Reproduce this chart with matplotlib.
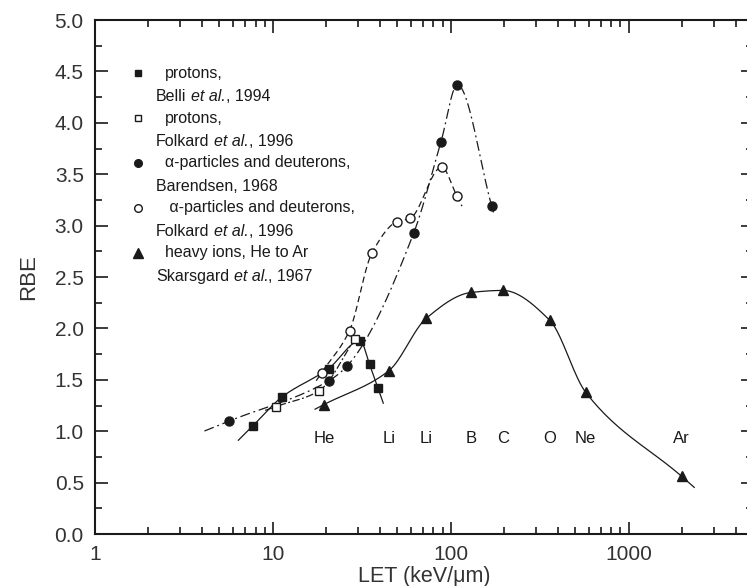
import numpy as np
import matplotlib
matplotlib.use("Agg")
import matplotlib.pyplot as plt
from matplotlib.ticker import FixedLocator, FixedFormatter, LogLocator, NullFormatter, MultipleLocator, FormatStrFormatter

plt.rcParams["font.family"] = ["Liberation Sans", "DejaVu Sans"]

# ---- data: LET (keV/um) and RBE ----
belli_let = [7.7, 11.2, 20.6, 31.0, 35.0, 39.0]
belli_rbe = [1.05, 1.33, 1.61, 1.88, 1.65, 1.42]

folk_p_let = [10.4, 18.1, 29.0]
folk_p_rbe = [1.24, 1.39, 1.90]

baren_let = [5.7, 20.6, 26.0, 62.0, 88.0, 109.0, 170.0]
baren_rbe = [1.10, 1.49, 1.63, 2.93, 3.81, 4.37, 3.19]

folk_a_let = [18.8, 27.0, 36.0, 50.0, 59.0, 89.0, 108.0]
folk_a_rbe = [1.57, 1.98, 2.73, 3.04, 3.07, 3.57, 3.29]

ions_let = [19.4, 45.0, 73.0, 130.0, 196.0, 360.0, 573.0, 1990.0]
ions_rbe = [1.26, 1.59, 2.10, 2.35, 2.37, 2.08, 1.38, 0.56]
ions_names = ["He", "Li", "Li", "B", "C", "O", "Ne", "Ar"]


def pchip(x, y, xq):
    """Monotone cubic (Fritsch-Carlson) interpolation."""
    x = np.asarray(x, float); y = np.asarray(y, float)
    h = np.diff(x); d = np.diff(y) / h
    n = len(x)
    m = np.zeros(n)
    for k in range(1, n - 1):
        if d[k - 1] * d[k] > 0:
            w1 = 2 * h[k] + h[k - 1]; w2 = h[k] + 2 * h[k - 1]
            m[k] = (w1 + w2) / (w1 / d[k - 1] + w2 / d[k])
    m[0] = d[0]; m[-1] = d[-1]
    out = np.empty_like(xq)
    for i, xv in enumerate(xq):
        k = np.clip(np.searchsorted(x, xv) - 1, 0, n - 2)
        t = (xv - x[k]) / h[k]
        h00 = 2 * t**3 - 3 * t**2 + 1; h10 = t**3 - 2 * t**2 + t
        h01 = -2 * t**3 + 3 * t**2; h11 = t**3 - t**2
        out[i] = h00 * y[k] + h10 * h[k] * m[k] + h01 * y[k + 1] + h11 * h[k] * m[k + 1]
    return out


def fit_curve(lets, rbes, ext_left, ext_right):
    """Smooth curve through the points in log-LET space, extended along end slopes."""
    lx = np.log10(lets); y = np.asarray(rbes, float)
    xq = np.linspace(lx[0], lx[-1], 300)
    yq = pchip(lx, y, xq)
    sl = (y[1] - y[0]) / (lx[1] - lx[0])
    sr = (y[-1] - y[-2]) / (lx[-1] - lx[-2])
    xl = np.array([lx[0] - ext_left]); yl = y[0] - sl * ext_left
    xr = np.array([lx[-1] + ext_right]); yr = y[-1] + sr * ext_right
    xs = np.concatenate([xl, xq, xr]); ys = np.concatenate([[yl], yq, [yr]])
    return 10 ** xs, ys


fig = plt.figure(figsize=(7.47, 5.86), dpi=100)
ax = fig.add_axes([0.127, 0.0887, 0.881, 0.877])

ink = "#1a1a1a"
lw = 0.9

# curves
cx, cy = fit_curve(belli_let, belli_rbe, 0.08, 0.03)
ax.plot(cx, cy, color=ink, lw=lw, ls="-")
cx, cy = fit_curve(folk_p_let, folk_p_rbe, 0.06, 0.0)
ax.plot(cx, cy, color=ink, lw=lw, ls=(0, (6, 2, 1.5, 2)))
cx, cy = fit_curve(baren_let, baren_rbe, 0.14, 0.01)
ax.plot(cx, cy, color=ink, lw=lw, ls=(0, (8, 3, 1.5, 3)))
cx, cy = fit_curve(folk_a_let, folk_a_rbe, 0.03, 0.03)
ax.plot(cx, cy, color=ink, lw=lw, ls=(0, (5, 3)))
cx, cy = fit_curve(ions_let, ions_rbe, 0.05, 0.07)
ax.plot(cx, cy, color=ink, lw=lw, ls="-")

# markers
ax.plot(belli_let, belli_rbe, ls="none", marker="s", ms=6, color=ink)
ax.plot(folk_p_let, folk_p_rbe, ls="none", marker="s", ms=6, mfc="white", mec=ink, mew=1.0)
ax.plot(baren_let, baren_rbe, ls="none", marker="o", ms=6.5, color=ink)
ax.plot(folk_a_let, folk_a_rbe, ls="none", marker="o", ms=6.5, mfc="white", mec=ink, mew=1.0)
ax.plot(ions_let, ions_rbe, ls="none", marker="^", ms=7.5, color=ink)

# ion labels under the heavy-ion points
for xv, name in zip(ions_let, ions_names):
    ax.text(xv, 0.93, name, ha="center", va="center", fontsize=12, color=ink)

# axes
ax.set_xscale("log")
ax.set_xlim(1, 5000)
ax.set_ylim(0, 5.0)
ax.xaxis.set_major_locator(FixedLocator([1, 10, 100, 1000]))
ax.xaxis.set_major_formatter(FixedFormatter(["1", "10", "100", "1000"]))
ax.xaxis.set_minor_locator(LogLocator(base=10, subs=np.arange(2, 10), numticks=20))
ax.xaxis.set_minor_formatter(NullFormatter())
ax.yaxis.set_major_locator(MultipleLocator(0.5))
ax.yaxis.set_minor_locator(MultipleLocator(0.25))
ax.yaxis.set_major_formatter(FormatStrFormatter("%.1f"))

for s in ax.spines.values():
    s.set_linewidth(1.5)
    s.set_color(ink)
ax.tick_params(which="both", direction="in", top=True, right=True, color=ink, width=1.2)
ax.tick_params(which="major", length=9, labelsize=15, pad=8, labelcolor="#333333")
ax.tick_params(which="minor", length=5)

ax.set_ylabel("RBE", fontsize=16, color="#333333", labelpad=11)
ax.set_xlabel("LET (keV/μm)", fontsize=15.5, color="#333333", labelpad=1)

# legend drawn by hand: marker, first line, then a second line with italic "et al."
renderer = fig.canvas.get_renderer()
legend_fs = 11.5


def text_run(x_ax, y_ax, pieces):
    """Write consecutive pieces (text, italic?) on one baseline, starting at axes coords."""
    x0, y0 = ax.transAxes.transform((x_ax, y_ax))
    probe = fig.text(0, 0, "a a", fontsize=legend_fs)
    probe2 = fig.text(0, 0, "aa", fontsize=legend_fs)
    space = probe.get_window_extent(renderer).width - probe2.get_window_extent(renderer).width
    probe.remove(); probe2.remove()
    x = x0
    for s, italic in pieces:
        if s == " ":
            x += space
            continue
        t = fig.text(x, y0, s, transform=None, fontsize=legend_fs, color=ink,
                     style="italic" if italic else "normal", va="baseline", ha="left")
        x += t.get_window_extent(renderer).width


legend_rows = [
    (dict(marker="s", ms=5, color=ink), "protons,",
     [("Belli", False), (" ", False), ("et al.", True), (", 1994", False)]),
    (dict(marker="s", ms=5, mfc="white", mec=ink, mew=1.0), "protons,",
     [("Folkard", False), (" ", False), ("et al.", True), (", 1996", False)]),
    (dict(marker="o", ms=5.5, color=ink), "α-particles and deuterons,",
     [("Barendsen, 1968", False)]),
    (dict(marker="o", ms=5.5, mfc="white", mec=ink, mew=1.0), " α-particles and deuterons,",
     [("Folkard", False), (" ", False), ("et al.", True), (", 1996", False)]),
    (dict(marker="^", ms=6.5, color=ink), "heavy ions, He to Ar",
     [("Skarsgard", False), (" ", False), ("et al.", True), (", 1967", False)]),
]
row0, step, sub = 0.897, 0.0875, 0.043
for i, (mk, l1, l2) in enumerate(legend_rows):
    yy = row0 - i * step
    ax.plot([0.065], [yy], ls="none", transform=ax.transAxes, **mk)
    ax.text(0.107, yy, l1, transform=ax.transAxes, fontsize=legend_fs, va="center", ha="left", color=ink)
    text_run(0.093, yy - sub - 0.012, l2)

fig.savefig("out.png", dpi=100)
